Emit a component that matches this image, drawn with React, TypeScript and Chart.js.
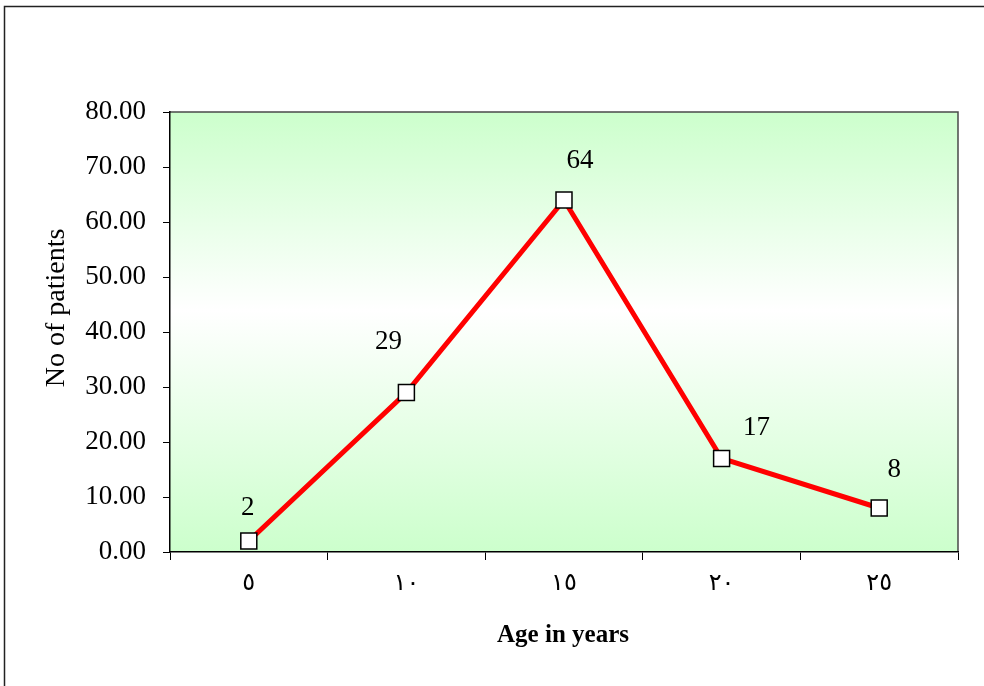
import React, { useEffect, useRef } from 'react';
import { Chart, registerables } from 'chart.js';

Chart.register(...registerables);

// ---- data ----
const categories = ['٥', '١٠', '١٥', '٢٠', '٢٥'];
const patients = [2, 29, 64, 17, 8];
const yMin = 0;
const yMax = 80;
const yStep = 10;
const xTitle = 'Age in years';
const yTitle = 'No of patients';

// label placement relative to each point (pixels)
const labelOffsets: [number, number][] = [
  [-1, -33],
  [-18, -51],
  [16, -39],
  [35, -31],
  [15, -38],
];

const serif = '"Liberation Serif", "Times New Roman", serif';

const decorPlugin = {
  id: 'decor',
  beforeDraw(chart: any) {
    const { ctx, chartArea: a } = chart;
    ctx.save();
    ctx.fillStyle = '#ffffff';
    ctx.fillRect(0, 0, chart.width, chart.height);
    // outer frame
    ctx.strokeStyle = '#222';
    ctx.lineWidth = 1.5;
    ctx.strokeRect(4.5, 6.5, 1400, 1400);
    // plot background gradient
    const g = ctx.createLinearGradient(0, a.top, 0, a.bottom);
    g.addColorStop(0, '#ccffcc');
    g.addColorStop(0.45, '#ffffff');
    g.addColorStop(1, '#ccffcc');
    ctx.fillStyle = g;
    ctx.fillRect(a.left, a.top, a.right - a.left, a.bottom - a.top);
    // top and right border
    ctx.strokeStyle = '#4a4a4a';
    ctx.lineWidth = 1.5;
    ctx.beginPath();
    ctx.moveTo(a.left, a.top);
    ctx.lineTo(a.right, a.top);
    ctx.lineTo(a.right, a.bottom);
    ctx.stroke();
    ctx.restore();
  },
  afterDatasetsDraw(chart: any) {
    const { ctx } = chart;
    const meta = chart.getDatasetMeta(0);
    ctx.save();
    ctx.fillStyle = '#000';
    ctx.font = `27px ${serif}`;
    ctx.textAlign = 'center';
    ctx.textBaseline = 'middle';
    meta.data.forEach((pt: any, i: number) => {
      const [dx, dy] = labelOffsets[i] || [0, -30];
      ctx.fillText(String(patients[i]), pt.x + dx, pt.y + dy);
    });
    ctx.restore();
  },
  afterDraw(chart: any) {
    const { ctx } = chart;
    ctx.save();
    ctx.fillStyle = '#000';
    ctx.textAlign = 'center';
    ctx.textBaseline = 'middle';
    ctx.font = `bold 25px ${serif}`;
    ctx.fillText(xTitle, 563, 636);
    ctx.translate(57, 308);
    ctx.rotate(-Math.PI / 2);
    ctx.font = `28px ${serif}`;
    ctx.fillText(yTitle, 0, 0);
    ctx.restore();
  },
};

export default function App() {
  const ref = useRef<HTMLCanvasElement>(null);

  useEffect(() => {
    if (!ref.current) return;
    const chart = new Chart(ref.current, {
      type: 'line',
      data: {
        labels: categories,
        datasets: [
          {
            data: patients,
            borderColor: '#ff0000',
            borderWidth: 5,
            tension: 0,
            pointStyle: 'rect',
            pointRadius: 11.3,
            pointHoverRadius: 11.3,
            pointBackgroundColor: '#ffffff',
            pointBorderColor: '#000000',
            pointBorderWidth: 1.5,
            clip: false as any,
          },
        ],
      },
      options: {
        responsive: false,
        animation: false,
        events: [],
        layout: { padding: { left: 0, top: 112, right: 26, bottom: 0 } },
        plugins: {
          legend: { display: false },
          tooltip: { enabled: false },
          title: { display: false },
        },
        scales: {
          x: {
            type: 'category',
            offset: true,
            afterFit: (s: any) => {
              s.height = 134;
            },
            grid: {
              offset: true,
              drawOnChartArea: false,
              drawTicks: true,
              tickLength: 8,
              color: '#000',
              lineWidth: 1,
            },
            border: { display: true, color: '#000', width: 1.5 },
            ticks: {
              color: '#000',
              padding: 9,
              maxRotation: 0,
              font: { family: '"DejaVu Sans", sans-serif', size: 24 },
            },
          },
          y: {
            min: yMin,
            max: yMax,
            afterFit: (s: any) => {
              s.width = 170;
            },
            grid: {
              drawOnChartArea: false,
              drawTicks: true,
              tickLength: 7,
              color: '#000',
              lineWidth: 1,
            },
            border: { display: true, color: '#000', width: 1.5 },
            ticks: {
              stepSize: yStep,
              color: '#000',
              padding: 17,
              font: { family: serif, size: 27 },
              callback: (v: any) => Number(v).toFixed(2),
            },
          },
        },
      },
      plugins: [decorPlugin],
    });
    return () => chart.destroy();
  }, []);

  return (
    <div style={{ position: 'absolute', left: 0, top: 0, width: 984, height: 686 }}>
      <canvas ref={ref} width={984} height={686} style={{ display: 'block' }} />
    </div>
  );
}
